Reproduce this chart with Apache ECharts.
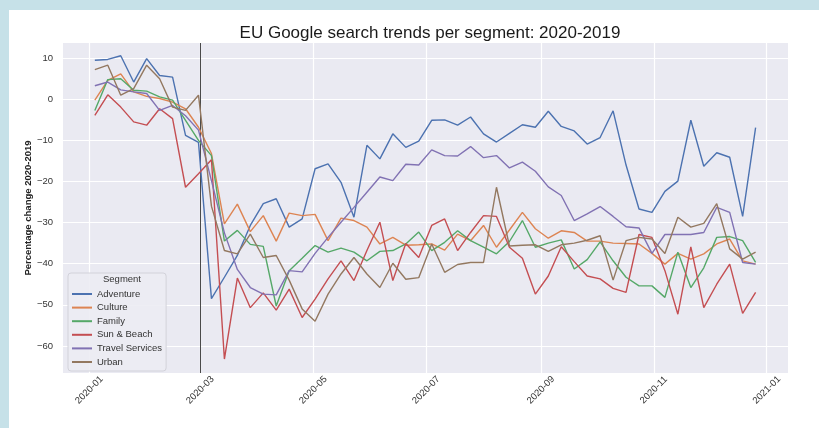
<!DOCTYPE html>
<html>
<head>
<meta charset="utf-8">
<script src="https://cdn.jsdelivr.net/npm/echarts@6/dist/echarts.min.js"></script>
<style>
  html, body { margin: 0; padding: 0; width: 819px; height: 428px; background: #c6e1e8; overflow: hidden; }
  #chart { position: absolute; left: 9px; top: 10px; width: 810px; height: 418px; background: #ffffff; }
</style>
</head>
<body>
<div id="chart"></div>
<script>
// ---- Data ----
const segments = ['Adventure', 'Culture', 'Family', 'Sun & Beach', 'Travel Services', 'Urban'];
const segmentColors = ['#4C72B0', '#DD8452', '#55A868', '#C44E52', '#8172B3', '#937860'];

// weekly observations, first week 2020-01-04, 52 weeks
const firstWeek = '2020-01-04';
const weekCount = 52;

const adventure = [9.5, 9.7, 10.6, 4.2, 9.9, 5.8, 5.4, -8.8, -10.5, -48.5, -43.3, -38, -30.7, -25.4, -24.2, -31.1, -29.1, -16.9, -15.7, -20.2, -28.7, -11.2, -14.5, -8.4, -11.7, -10.2, -5.1, -5, -6.3, -4.3, -8.4, -10.4, -8.3, -6.2, -6.8, -2.9, -6.6, -7.7, -10.9, -9.3, -2.8, -16, -26.7, -27.5, -22.4, -19.9, -5.1, -16.3, -13, -14.1, -28.5, -6.9];
const culture = [-0.2, 4.6, 6.2, 1.8, 0.7, 0.2, -0.7, -2.3, -6.8, -13.2, -30.3, -25.5, -32.2, -28.3, -34.5, -27.7, -28.3, -28, -34.4, -28.9, -29.5, -31.1, -35.2, -33.6, -35.5, -35.4, -35.2, -36.7, -32.8, -34.4, -30.7, -36, -31.8, -27.5, -31.5, -33.8, -32, -32.4, -34.5, -34.5, -35, -35.1, -35.2, -37.5, -40.1, -37.5, -38.9, -37.6, -35.2, -34, -39.3, -40.1];
const family = [-2.7, 4.8, 5, 2.2, 2, 0.6, -0.2, -5.1, -10, -13.7, -34.5, -31.9, -35.3, -35.8, -50.3, -41.7, -38.7, -35.6, -37.2, -36.2, -37.2, -39.3, -37, -36.8, -35.2, -32.3, -36.8, -34.8, -32, -34.4, -36, -37.6, -34.6, -29.5, -36, -35, -34.2, -41.3, -39, -34.7, -39.3, -43.3, -45.4, -45.4, -48.2, -37.2, -45.8, -41, -33.6, -33.4, -34.4, -39.7];
const sunBeach = [-3.9, 1.1, -1.9, -5.5, -6.3, -2.3, -4.7, -21.4, -18.1, -14.7, -63.2, -43.5, -50.7, -47.1, -51.3, -46.2, -53.1, -48.6, -43.7, -39.3, -44.1, -36.8, -29.9, -44.1, -35.1, -38.5, -30.7, -29.1, -36.8, -32.4, -28.3, -28.5, -36, -38.7, -47.4, -43, -35.9, -39.5, -43, -43.7, -46, -47, -32.9, -33.6, -41.7, -52.3, -35.9, -50.7, -45, -40.1, -52.1, -47];
const travelServices = [3.3, 4.2, 2.3, 1.8, 1.4, -2.7, -1.5, -4, -7.5, -19.8, -32.5, -41.4, -45.8, -47.4, -47.6, -41.7, -42, -37.5, -33.6, -29.9, -26.3, -22.6, -18.9, -19.8, -15.8, -16, -12.3, -13.7, -13.8, -11.5, -14.2, -13.7, -16.7, -15.3, -17.5, -21.3, -23.4, -29.5, -27.9, -26.1, -28.5, -31, -31.3, -37.5, -32.9, -32.9, -32.9, -32.4, -26.3, -27.5, -39.7, -40.1];
const urban = [7.2, 8.3, 1, 2.6, 8.3, 5, -1.9, -2.7, 1, -26, -36.8, -37.6, -32.8, -38.5, -38, -44, -51, -54, -47.4, -42.5, -38.5, -42.5, -45.8, -39.9, -43.8, -43.4, -35.2, -42.1, -40.2, -39.7, -39.7, -21.4, -35.7, -35.5, -35.4, -37, -35.4, -35, -34.3, -33.2, -44, -34.4, -33.6, -34, -37.5, -28.7, -31.1, -30.2, -25.4, -36.4, -38.9, -37.2];

const xTickDates = ['2020-01-01', '2020-03-01', '2020-05-01', '2020-07-01', '2020-09-01', '2020-11-01', '2021-01-01'];
const xTickLabels = ['2020-01', '2020-03', '2020-05', '2020-07', '2020-09', '2020-11', '2021-01'];
const yTicks = [-60, -50, -40, -30, -20, -10, 0, 10];
const lockdownDate = '2020-03-01';

// ---- Build ----
const DAY = 86400000;
const t0 = Date.parse(firstWeek + 'T00:00:00Z');
const weeks = [];
for (let i = 0; i < weekCount; i++) weeks.push(t0 + i * 7 * DAY);
const ts = s => Date.parse(s + 'T00:00:00Z');
const xTickValues = xTickDates.map(ts);

const valuesList = [adventure, culture, family, sunBeach, travelServices, urban];
const series = segments.map((name, k) => ({
  name: name,
  type: 'line',
  symbol: 'none',
  showSymbol: false,
  color: segmentColors[k],
  lineStyle: { width: 1.4, color: segmentColors[k] },
  emphasis: { disabled: true },
  data: weeks.map((t, i) => [t, valuesList[k][i]]),
  z: 3
}));
series[0].markLine = {
  silent: true,
  symbol: ['none', 'none'],
  label: { show: false },
  lineStyle: { color: '#4a4a4a', width: 1, type: 'solid' },
  data: [{ xAxis: ts(lockdownDate) }],
  z: 2
};

const chart = echarts.init(document.getElementById('chart'), null, { renderer: 'canvas' });
const FONT = 'Liberation Sans, Arial, sans-serif';
chart.setOption({
  animation: false,
  textStyle: { fontFamily: FONT },
  title: [
    { text: 'EU Google search trends per segment: 2020-2019', left: 416, top: 10, textAlign: 'center',
      textStyle: { fontSize: 17, fontWeight: 'normal', color: '#1a1a1a', fontFamily: FONT } },
    { text: 'Segment', left: 108, top: 259, textAlign: 'center', z: 10,
      textStyle: { fontSize: 9.5, fontWeight: 'normal', color: '#333', fontFamily: FONT } }
  ],
  legend: {
    orient: 'vertical',
    left: 59, top: 263,
    data: segments,
    icon: 'rect',
    itemWidth: 20, itemHeight: 2,
    itemGap: 1.6,
    padding: [15, 4, 3, 4],
    backgroundColor: 'rgba(236,236,243,0.9)',
    borderColor: '#d2d2da', borderWidth: 1, borderRadius: 3,
    textStyle: { fontSize: 9.5, color: '#333', lineHeight: 12, fontFamily: FONT },
    selectedMode: false
  },
  grid: { left: 54, right: 31, top: 33, bottom: 55, show: true, backgroundColor: '#EAEAF2', borderWidth: 0 },
  xAxis: {
    type: 'value',
    min: Date.UTC(2019, 11, 17, 19, 12),
    max: Date.UTC(2021, 0, 12, 12),
    axisLine: { show: false },
    axisTick: { show: false, customValues: xTickValues },
    splitLine: { show: true, lineStyle: { color: '#ffffff', width: 1.2 } },
    axisLabel: {
      customValues: xTickValues,
      rotate: 45,
      align: 'center',
      verticalAlign: 'middle',
      margin: 17,
      fontSize: 9.5,
      color: '#333',
      fontFamily: FONT,
      hideOverlap: false,
      showMinLabel: true,
      showMaxLabel: true,
      formatter: function (v) {
        const i = xTickValues.indexOf(v);
        return i >= 0 ? xTickLabels[i] : '';
      }
    }
  },
  yAxis: {
    type: 'value',
    min: -66.6,
    max: 13.7,
    name: 'Percentage change 2020-2019',
    nameLocation: 'middle',
    nameRotate: 90,
    nameGap: 30,
    nameMoveOverlap: false,
    nameTextStyle: { fontSize: 9.5, fontWeight: 'bold', color: '#222', fontFamily: FONT },
    axisLine: { show: false },
    axisTick: { show: false, customValues: yTicks },
    splitLine: { show: true, lineStyle: { color: '#ffffff', width: 1.2 } },
    axisLabel: {
      customValues: yTicks,
      margin: 10,
      fontSize: 9.5,
      color: '#333',
      fontFamily: FONT,
      formatter: function (v) { return v < 0 ? '\u2212' + Math.abs(v) : String(v); }
    }
  },
  series: series
});
</script>
</body>
</html>
